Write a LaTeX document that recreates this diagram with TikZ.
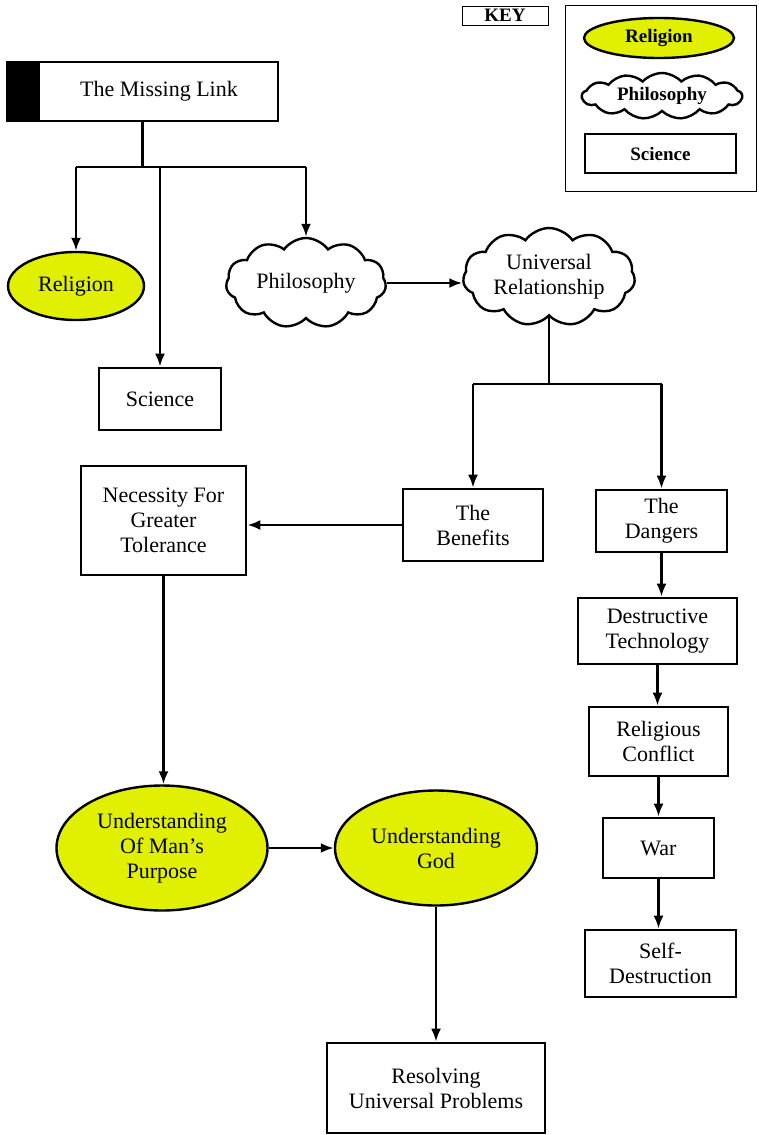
\documentclass[tikz,border=0pt]{standalone}
\usepackage{fontspec}
\setmainfont{Liberation Serif}
\usetikzlibrary{arrows.meta, shapes.geometric, shapes.symbols}
\definecolor{relyellow}{RGB}{225,240,0}
\tikzset{
  conn/.style={line width=2.6pt},
  arr/.style={line width=2.6pt,-{Latex[length=13pt,width=10pt]}},
  txt/.style={font=\fontsize{22}{25}\selectfont, align=center, inner sep=0pt},
  sciencebox/.style={txt, draw, line width=2.6pt, rectangle},
  religionshape/.style={txt, draw, line width=2.4pt, ellipse, fill=relyellow},
  philoshape/.style={txt, draw, line width=2.4pt, cloud, cloud puffs=11, cloud puff arc=110, cloud ignores aspect},
  keytxt/.style={font=\bfseries\fontsize{19}{22}\selectfont}
}
\begin{document}
\begin{tikzpicture}[x=1pt,y=-1pt]
\useasboundingbox (0,0) rectangle (758,1135);
\node[sciencebox, minimum width=271pt, minimum height=59pt,
  path picture={\fill (path picture bounding box.north west) rectangle ++(33pt,-59pt);}]
  (link) at (142.5,91.5) {\hspace*{33pt}The Missing Link};
\node[religionshape, minimum width=136pt, minimum height=68pt] (religion) at (76,286) {Religion};
\node[sciencebox, minimum width=122pt, minimum height=62pt] (science) at (160,399) {Science};
\node[philoshape, minimum width=160pt, minimum height=90pt] (philo) at (306,283) {Philosophy};
\node[philoshape, minimum width=172pt, minimum height=98pt] (univ) at (549,277) {Universal\\Relationship};
\node[sciencebox, minimum width=140pt, minimum height=72pt] (benefits) at (473,525) {The\\Benefits};
\node[sciencebox, minimum width=131pt, minimum height=62pt] (dangers) at (661.5,521) {The\\Dangers};
\node[sciencebox, minimum width=165pt, minimum height=109pt] (tolerance) at (163.5,520.5) {Necessity For\\Greater\\Tolerance};
\node[sciencebox, minimum width=159pt, minimum height=66pt] (technology) at (657.5,631) {Destructive\\Technology};
\node[sciencebox, minimum width=139pt, minimum height=69pt] (conflict) at (658.5,741.5) {Religious\\Conflict};
\node[sciencebox, minimum width=111pt, minimum height=60pt] (war) at (658.5,848) {War};
\node[sciencebox, minimum width=151pt, minimum height=67pt] (selfdest) at (660.5,963.5) {Self-\\Destruction};
\node[religionshape, minimum width=211pt, minimum height=125pt] (purpose) at (162,848) {Understanding\\Of Man's\\Purpose};
\node[religionshape, minimum width=202pt, minimum height=115pt] (god) at (436,848) {Understanding\\God};
\node[sciencebox, minimum width=218pt, minimum height=90pt] (resolving) at (436,1088) {Resolving\\Universal Problems};

\node[draw, line width=1pt, minimum width=86pt, minimum height=19pt, inner sep=0pt, keytxt] (keylabel) at (505,15.5) {KEY};
\node[draw, line width=1pt, minimum width=191pt, minimum height=186pt] (keyframe) at (660.5,98) {};
\node[religionshape, keytxt, minimum width=150pt, minimum height=40pt] (keyreligion) at (659,38) {Religion};
\node[philoshape, keytxt, cloud puffs=13, cloud puff arc=95, minimum width=160pt, minimum height=46pt] (keyphilo) at (662,96) {Philosophy};
\node[sciencebox, keytxt, minimum width=151pt, minimum height=39pt] (keyscience) at (660.5,153.5) {Science};

\coordinate (bar1) at (0,167);
\coordinate (bar2) at (0,384);
\draw[conn] (link.south) -- (link.south |- bar1);
\draw[conn] (religion.north |- bar1) -- (philo.north |- bar1);
\draw[arr] (religion.north |- bar1) -- (religion.north);
\draw[arr] (science.north |- bar1) -- (science.north);
\draw[arr] (philo.north |- bar1) -- (philo.north);
\draw[arr] (philo.east) -- (philo.east -| univ.west);
\draw[conn] (univ.south) -- (univ.south |- bar2);
\draw[conn] (benefits.north |- bar2) -- (dangers.north |- bar2);
\draw[arr] (benefits.north |- bar2) -- (benefits.north);
\draw[arr] (dangers.north |- bar2) -- (dangers.north);
\draw[arr] (benefits.west) -- (benefits.west -| tolerance.east);
\draw[arr] (tolerance.south) -- (tolerance.south |- purpose.north);
\draw[arr] (dangers.south) -- (dangers.south |- technology.north);
\draw[arr] (technology.south) -- (technology.south |- conflict.north);
\draw[arr] (conflict.south) -- (conflict.south |- war.north);
\draw[arr] (war.south) -- (war.south |- selfdest.north);
\draw[arr] (purpose.east) -- (god.west);
\draw[arr] (god.south) -- (god.south |- resolving.north);
\end{tikzpicture}
\end{document}
